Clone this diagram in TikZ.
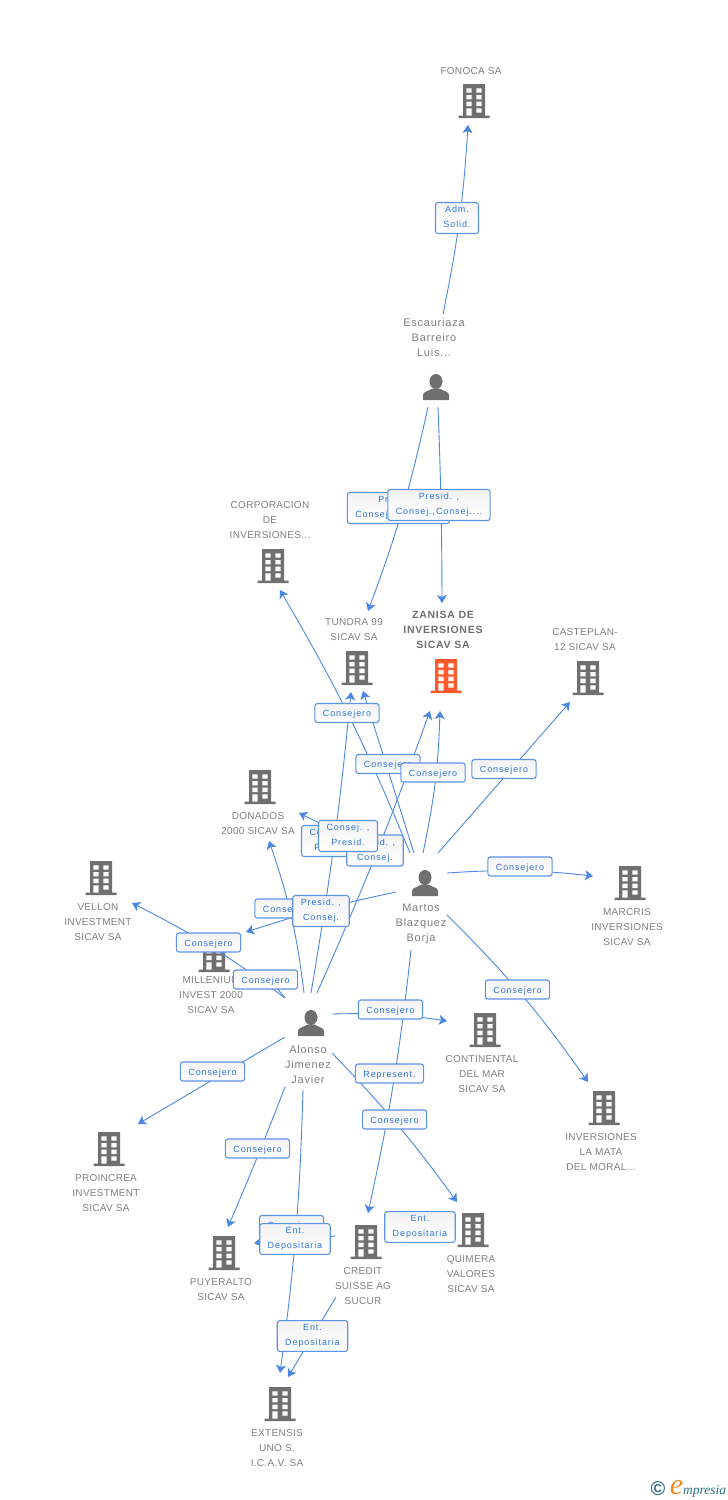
\documentclass[tikz,border=0pt]{standalone}
\usepackage{fontspec}
\setmainfont{Liberation Sans}
\newfontfamily\namefont{Liberation Sans}[LetterSpace=3]
\newfontfamily\personfont{Liberation Sans}[LetterSpace=7]
\newfontfamily\rolefont{Liberation Sans}[LetterSpace=10]
\newfontfamily\logofont{Liberation Serif}
\usetikzlibrary{arrows.meta,calc}
\definecolor{icongrey}{HTML}{6F6F6F}
\definecolor{iconorange}{HTML}{FF5A2B}
\definecolor{namegrey}{HTML}{7F7F7F}
\definecolor{linkblue}{HTML}{4A88E2}
\definecolor{roleblue}{HTML}{2F74DC}
\definecolor{logoteal}{HTML}{2F6F8A}
\definecolor{logoorange}{HTML}{F08A24}
\tikzset{
    company/.default=icongrey,
    company/.style={
        minimum width=31pt,minimum height=34pt,inner sep=0pt,
        path picture={
            \begin{scope}[shift={(path picture bounding box.center)}]
                \fill[#1] (-11,-17) rectangle (11,15) (-15.5,14.5) rectangle (15.5,17);
                \fill[white] (-7.7,-12.7) rectangle (-2.3,-8.3) (2.3,-12.7) rectangle (7.5,-8.3)
                    (-7.7,-6) rectangle (-2.3,-1.7) (2.3,-6) rectangle (7.5,-1.7)
                    (-7.7,.7) rectangle (-2.3,5) (2.3,.7) rectangle (7.5,5)
                    (-7.7,7.3) rectangle (-2.3,14.5) (2.3,7.3) rectangle (7.5,11.7);
            \end{scope}
        }
    },
    person/.style={
        minimum width=27pt,minimum height=27pt,inner sep=0pt,
        path picture={
            \begin{scope}[shift={(path picture bounding box.center)}]
                \fill[icongrey] (0,-5.5) ellipse (6.5 and 7.5);
                \fill[icongrey] (-13,13) -- (-13,8) .. controls (-13,4.5) and (-7,4) .. (-3.5,1.5)
                    -- (3.5,1.5) .. controls (7,4) and (13,4.5) .. (13,8) -- (13,13) -- cycle;
            \end{scope}
        }
    },
    orgname/.style={align=center,text=namegrey,inner sep=0pt,font=\namefont\fontsize{10}{15}\selectfont},
    personname/.style={align=center,text=namegrey,inner sep=0pt,font=\personfont\fontsize{11}{15}\selectfont},
    mainname/.style={align=center,text=icongrey,inner sep=0pt,font=\personfont\bfseries\fontsize{10.5}{15}\selectfont},
    link/.style={draw=linkblue,line width=.9pt,-{Stealth[length=8pt,width=10pt,inset=2pt]}},
    role/.style={
        draw=linkblue!90,line width=1.1pt,rounded corners=2.5pt,align=center,text=roleblue,
        top color=black!5,bottom color=white,inner xsep=8pt,inner ysep=3.75pt,
        execute at begin node={\rule[-2pt]{0pt}{11.5pt}},
        execute at end node={\rule[-2pt]{0pt}{2pt}},
        font=\rolefont\fontsize{9}{15}\selectfont
    }
}

\begin{document}
\begin{tikzpicture}[x=1pt,y=-1pt]
    \useasboundingbox (0,0) rectangle (728,1500);

    \node[company] (fonoca) at (474,101) {};
    \node[orgname] (fonocat) at (471,71) {FONOCA SA};
    \node[person] (escauriaza) at (436,387) {};
    \node[personname] (escauriazat) at (434,338) {Escauriaza\\Barreiro\\Luis...};
    \node[company] (corporacion) at (273,566) {};
    \node[orgname] (corporaciont) at (270,520) {CORPORACION\\DE\\INVERSIONES...};
    \node[company] (tundra) at (357,668) {};
    \node[orgname] (tundrat) at (354,629.5) {TUNDRA 99\\SICAV SA};
    \node[company=iconorange] (zanisa) at (446,676) {};
    \node[mainname] (zanisat) at (443,630) {ZANISA DE\\INVERSIONES\\SICAV SA};
    \node[company] (casteplan) at (588,678) {};
    \node[orgname] (casteplant) at (585,639.5) {CASTEPLAN-\\12 SICAV SA};
    \node[company] (donados) at (260,787) {};
    \node[orgname] (donadost) at (258,823.5) {DONADOS\\2000 SICAV SA};
    \node[company] (vellon) at (101,878) {};
    \node[orgname] (vellont) at (98,922) {VELLON\\INVESTMENT\\SICAV SA};
    \node[person] (martos) at (425,883) {};
    \node[personname] (martost) at (421,924) {Martos\\Blazquez\\Borja};
    \node[company] (marcris) at (630,883) {};
    \node[orgname] (marcrist) at (627,927) {MARCRIS\\INVERSIONES\\SICAV SA};
    \node[company] (millenium) at (214,955) {};
    \node[orgname] (milleniumt) at (211,995) {MILLENIUM\\INVEST 2000\\SICAV SA};
    \node[person] (alonso) at (311,1023) {};
    \node[personname] (alonsot) at (308,1065) {Alonso\\Jimenez\\Javier};
    \node[company] (continental) at (485,1030) {};
    \node[orgname] (continentalt) at (482,1074) {CONTINENTAL\\DEL MAR\\SICAV SA};
    \node[company] (mata) at (604,1108) {};
    \node[orgname] (matat) at (601,1152) {INVERSIONES\\LA MATA\\DEL MORAL...};
    \node[company] (proincrea) at (109,1149) {};
    \node[orgname] (proincreat) at (106,1193) {PROINCREA\\INVESTMENT\\SICAV SA};
    \node[company] (puyeralto) at (224,1253) {};
    \node[orgname] (puyeraltot) at (221,1289.5) {PUYERALTO\\SICAV SA};
    \node[company] (credit) at (366,1242) {};
    \node[orgname] (creditt) at (363,1286) {CREDIT\\SUISSE AG\\SUCUR};
    \node[company] (quimera) at (473,1230) {};
    \node[orgname] (quimerat) at (471,1274) {QUIMERA\\VALORES\\SICAV SA};
    \node[company] (extensis) at (280,1404) {};
    \node[orgname] (extensist) at (277,1448) {EXTENSIS\\UNO S.\\I.C.A.V. SA};

    \draw[link] ($(escauriaza)+(7,-73)$) to[bend right=4] ($(fonoca)+(-6,24)$);
    \draw[link] ($(escauriaza)+(-8,20)$) to[bend left=4] ($(tundra)+(11,-57)$);
    \draw[link] ($(escauriaza)+(2,20)$) to[bend left=1] ($(zanisa)+(-4,-73)$);

    \draw[link] ($(martos)+(-15,-30)$) to[bend right=4] ($(corporacion)+(7,24)$);
    \draw[link] ($(martos)+(-11,-30)$) -- ($(tundra)+(6,23)$);
    \draw[link] ($(martos)+(-2,-30)$) to[bend right=5] ($(zanisa)+(-6,35)$);
    \draw[link] ($(martos)+(13,-30)$) -- ($(casteplan)+(-18,24)$);
    \draw[link] ($(martos)+(22,-10)$) to[bend left=5] ($(marcris)+(-37,-7)$);
    \draw[link] ($(martos)+(22,32)$) to[bend left=5] ($(mata)+(-16,-26)$);
    \draw[link] ($(martos)+(-14,67)$) to[bend left=3] ($(credit)+(2,-29)$);
    \draw[link] ($(martos)+(-29,9)$) to[bend right=3] ($(millenium)+(32,-23)$);
    \draw[link] ($(martos)+(-29,-23)$) -- ($(donados)+(39,26)$);

    \draw[link] ($(alonso)+(0,-30)$) to[bend right=2] ($(tundra)+(-6,24)$);
    \draw[link] ($(alonso)+(-7,-30)$) to[bend right=6] ($(donados)+(9,54)$);
    \draw[link] ($(alonso)+(6,-30)$) to[bend right=2] ($(zanisa)+(-16,35)$);
    \draw[link] ($(alonso)+(-26,-25)$) to[bend right=5] ($(vellon)+(31,25)$);
    \draw[link] ($(alonso)+(-26,-25)$) -- ($(millenium)+(50,17)$);
    \draw[link] ($(alonso)+(21,-9)$) to[bend left=5] ($(continental)+(-38,-9)$);
    \draw[link] ($(alonso)+(-26,14)$) -- ($(proincrea)+(29,-25)$);
    \draw[link] ($(alonso)+(-26,64)$) to[bend left=1] ($(puyeralto)+(4,-26)$);
    \draw[link] ($(alonso)+(-8,67)$) to[bend left=3] ($(extensis)+(0,-31)$);
    \draw[link] ($(alonso)+(21,30)$) to[bend left=4] ($(quimera)+(-16,-28)$);

    \draw[link] ($(credit)+(-31,-6)$) -- ($(puyeralto)+(30,-10)$);
    \draw[link] ($(credit)+(-30,55)$) -- ($(extensis)+(8,-27)$);

    \node[role] (solid) at (457,218) {Adm.\\Solid.};
    \node[role] (presidb) at (398.5,508) {Presid. ,\\Consej.,Consej....};
    \node[role] (presida) at (439,505) {Presid. ,\\Consej.,Consej....};
    \node[role] (cons1) at (347,713) {Consejero};
    \node[role] (cons2) at (388,764) {Consejero};
    \node[role] (cons3) at (433,772.5) {Consejero};
    \node[role] (cons4) at (504,769) {Consejero};
    \node[role] (cons5) at (520,866.5) {Consejero};
    \node[role] (alcons) at (331,841) {Consej. ,\\Presid.};
    \node[role] (alpres) at (375,850.5) {Presid. ,\\Consej.};
    \node[role] (mapres) at (348,836) {Consej. ,\\Presid.};
    \node[role] (cons6) at (287,908.5) {Consejero};
    \node[role] (maconsej) at (321,911) {Presid. ,\\Consej.};
    \node[role] (cons7) at (208.5,942.5) {Consejero};
    \node[role] (cons8) at (265.5,979.5) {Consejero};
    \node[role] (cons9) at (517.5,989.5) {Consejero};
    \node[role] (cons10) at (390.5,1009.5) {Consejero};
    \node[role] (cons11) at (212.5,1071.5) {Consejero};
    \node[role] (repres) at (389.5,1073.5) {Represent.};
    \node[role] (cons12) at (394.5,1119.5) {Consejero};
    \node[role] (cons13) at (257.5,1148.5) {Consejero};
    \node[role] (cons14) at (291.5,1225) {Consejero};
    \node[role] (depos1) at (295,1239) {Ent.\\Depositaria};
    \node[role] (depos2) at (420,1227) {Ent.\\Depositaria};
    \node[role] (depos3) at (312.5,1336) {Ent.\\Depositaria};

    \node[inner sep=0pt,text=logoteal,font=\bfseries\fontsize{20}{20}\selectfont] (copy) at (658,1489) {©};
    \node[inner sep=0pt,text=logoteal,font=\logofont\itshape\fontsize{13.5}{13.5}\selectfont] (logo) at (698,1489) {\textcolor{logoorange}{\fontsize{30}{30}\selectfont e}mpresia};
\end{tikzpicture}
\end{document}
